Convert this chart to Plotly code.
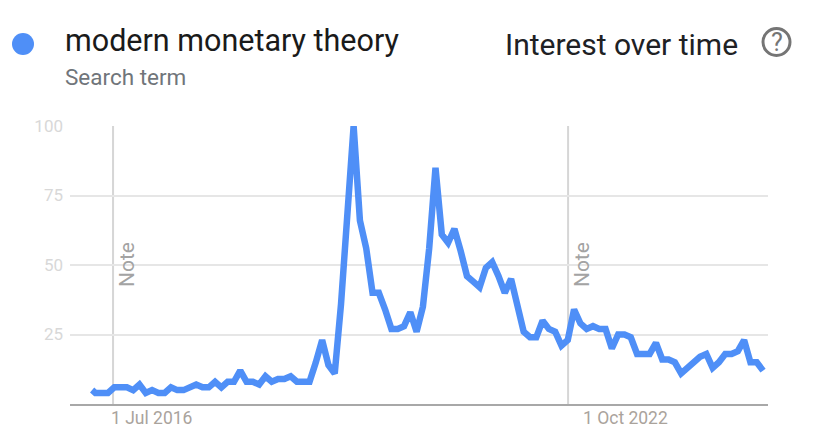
import pandas as pd
import plotly.graph_objects as go

term = "modern monetary theory"
subtitle = "Search term"
chart_title = "Interest over time"
line_color = "#4f8ff7"

first_date = "2016-03-18"
last_date = "2025-06-05"
n_regular = 107
step_days = 31.6

values = [5, 4, 4, 4, 6, 6, 6, 5, 7, 4, 5, 4, 4, 6, 5, 5, 6, 7, 6, 6, 8, 6, 8, 8, 12, 8, 8, 7, 10, 8, 9, 9, 10,
          8, 8, 8, 15, 23, 14, 11, 36, 68, 100, 66, 56, 40, 40, 34, 27, 27, 28, 33, 26, 35, 56, 85, 61, 58, 63,
          55, 46, 44, 42, 49, 51, 46, 40, 45, 35, 26, 24, 24, 30, 27, 26, 21, 23, 34, 29, 27, 28, 27, 27, 20,
          25, 25, 24, 18, 18, 18, 22, 16, 16, 15, 11, 13, 15, 17, 18, 13, 15, 18, 18, 19, 23, 15, 15, 12]

note_dates = ["2016-07-01", "2022-10-01"]
x_labels = ["1 Jul 2016", "1 Oct 2022"]
x_label_shift = [38, 57]
y_ticks = [25, 50, 75, 100]

regular = pd.date_range(end=last_date, periods=n_regular, freq=pd.Timedelta(days=step_days))
dates = [pd.Timestamp(first_date)] + list(regular)

fig = go.Figure(go.Scatter(x=dates, y=values, mode="lines",
                           line=dict(color=line_color, width=6.5, shape="linear"),
                           hoverinfo="x+y"))

FONT = "Roboto, Arial, sans-serif"
fig.update_layout(
    width=813, height=439, autosize=False, showlegend=False,
    paper_bgcolor="white", plot_bgcolor="white",
    margin=dict(l=70, r=45, t=126, b=35),
    font=dict(family=FONT),
    xaxis=dict(type="date", range=["2015-11-28", "2025-06-30"], showgrid=False, zeroline=False,
               showline=True, linecolor="#a8a8a8", linewidth=2, showticklabels=False, ticks=""),
    yaxis=dict(range=[0, 100], tickvals=y_ticks, showgrid=True, gridcolor="#e6e6e6", gridwidth=2,
               zeroline=False, showline=False, ticks="", ticklabelstandoff=6,
               tickfont=dict(family=FONT, size=17, color="#d8d8d8")),
)


def to_x(x):
    return (x - 70) / 698.0


def to_y(y):
    return (404 - y) / 278.0


for d in note_dates:
    fig.add_shape(type="line", x0=d, x1=d, yref="paper", y0=0, y1=1, layer="below",
                  line=dict(color="#d6d6d6", width=2))
    fig.add_annotation(x=d, xref="x", xshift=14, yref="paper", y=to_y(265),
                       text="Note", textangle=-90, showarrow=False, yanchor="middle", xanchor="center",
                       font=dict(family=FONT, size=21, color="#a3a3a3"))

for d, lab, sh in zip(note_dates, x_labels, x_label_shift):
    fig.add_annotation(x=d, xref="x", xshift=sh, yref="paper", y=0, yshift=-14, yanchor="middle",
                       xanchor="center", text=lab, showarrow=False,
                       font=dict(family=FONT, size=17.5, color="#aaa39c"))


def page_text(x, y, text, size, color, anchor="left"):
    fig.add_annotation(xref="paper", yref="paper", x=to_x(x), y=to_y(y), text=text,
                       xanchor=anchor, yanchor="middle", showarrow=False,
                       font=dict(family=FONT, size=size, color=color))


page_text(63, 41, term, 30.5, "#1a1a1a")
page_text(63, 77, subtitle, 22.5, "#70757a")
page_text(503, 44, chart_title, 30, "#202124")
page_text(776.5, 42, "?", 25, "#757575", "center")

fig.add_shape(type="circle", xref="paper", yref="paper", x0=to_x(12), x1=to_x(34), y0=to_y(55), y1=to_y(33),
              fillcolor=line_color, line=dict(width=0))
fig.add_shape(type="circle", xref="paper", yref="paper", x0=to_x(763), x1=to_x(790), y0=to_y(55.5), y1=to_y(28.5),
              fillcolor="rgba(0,0,0,0)", line=dict(color="#757575", width=3))

fig.write_html("out.html", config={"displayModeBar": False},
               post_script="document.body.style.margin='0';")
